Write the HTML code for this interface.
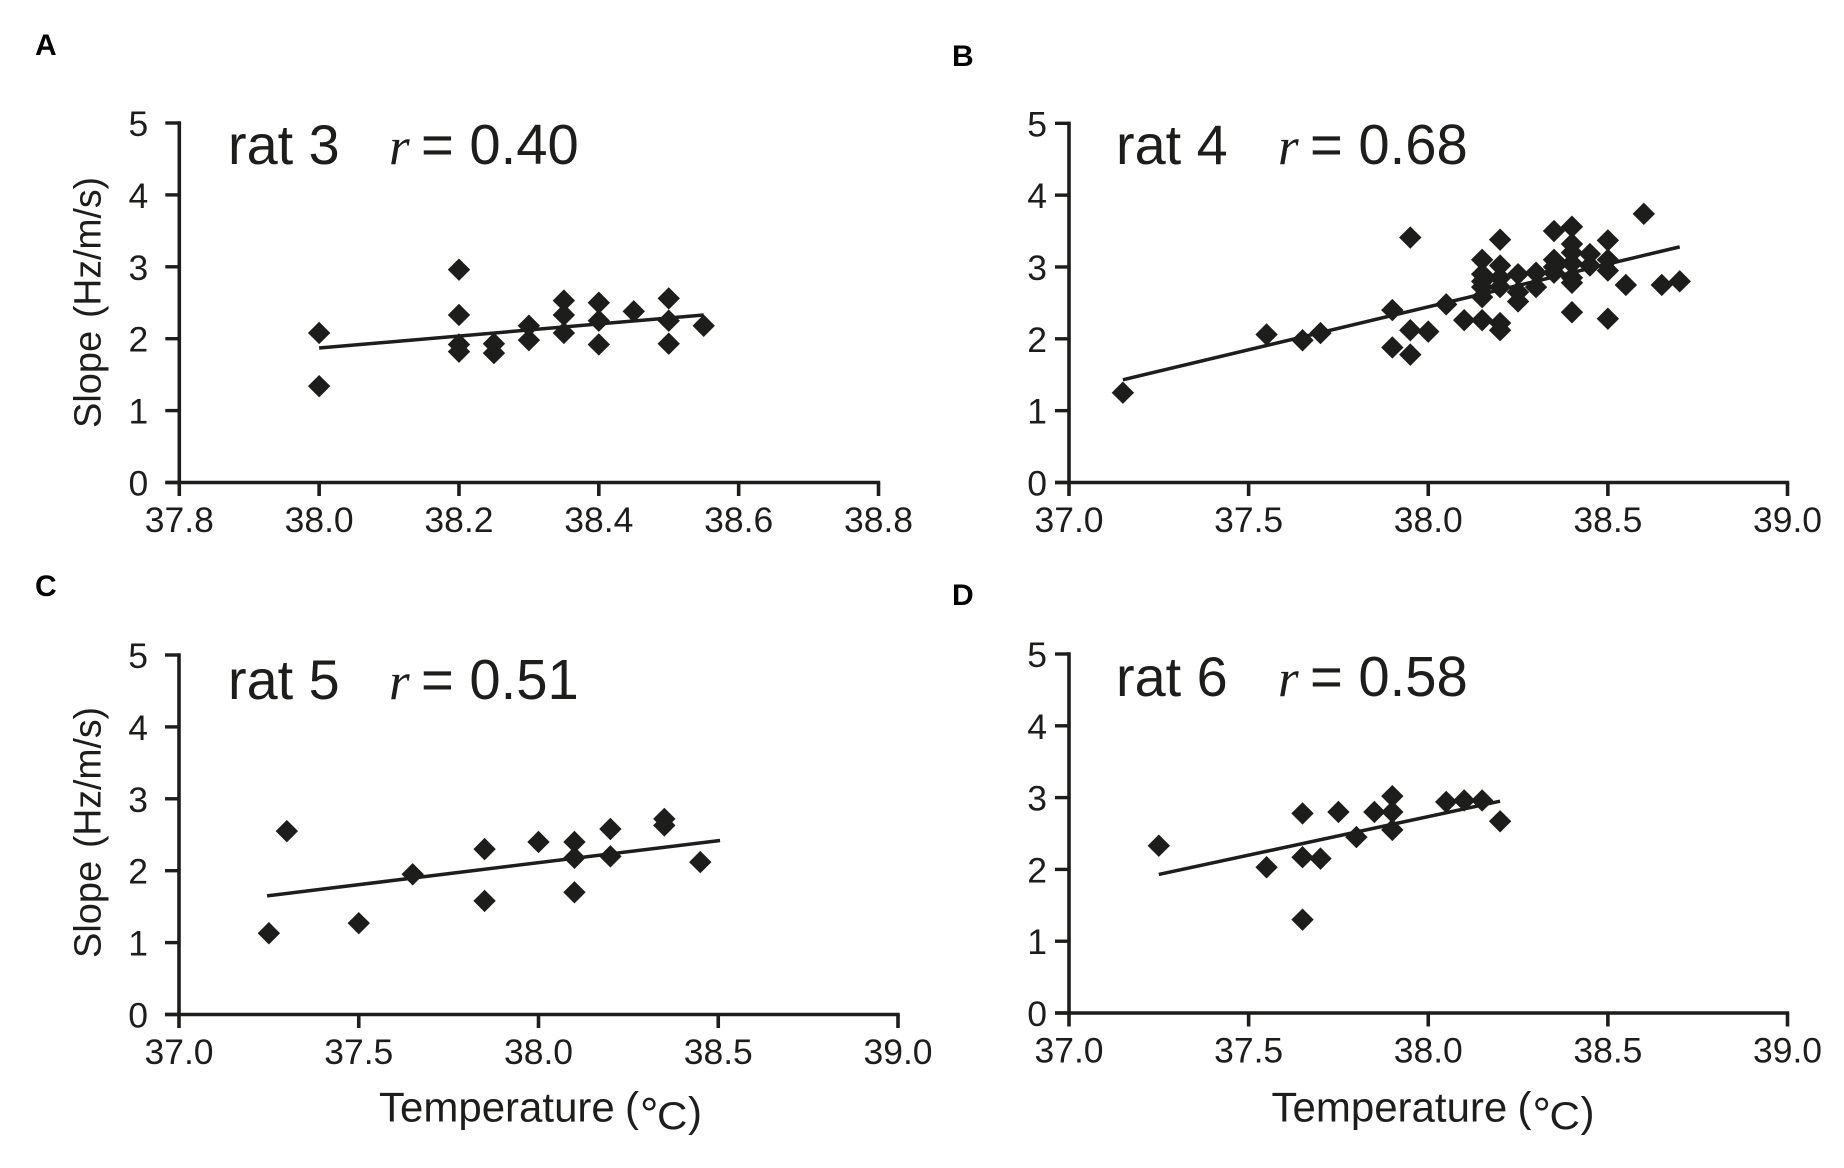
<!DOCTYPE html>
<html lang="en">
<head>
<meta charset="utf-8">
<title>Slope versus temperature, rats 3 to 6</title>
<style>
html,body{margin:0;padding:0;background:#fff}
svg{display:block}
text{font-family:"Liberation Sans",sans-serif;fill:#1d1d1b}
.panel-letter{font-size:30px;font-weight:700;fill:#000}
.tick{font-size:35.5px}
.note{font-size:55.8px}
.val{font-size:56.2px}
.r{font-family:"Liberation Serif",serif;font-style:italic;font-size:53px}
.ytitle{font-size:38px}
.xtitle{font-size:42px}
</style>
</head>
<body>
<svg id="figure" width="1844" height="1168" viewBox="0 0 1844 1168" xmlns="http://www.w3.org/2000/svg">
  <text class="panel-letter" x="35" y="55">A</text>
  <text class="panel-letter" x="952" y="66">B</text>
  <text class="panel-letter" x="35" y="596">C</text>
  <text class="panel-letter" x="952" y="605">D</text>

  <text class="note" x="228" y="164">rat 3</text>
  <text class="r" x="389" y="164">r</text>
  <text class="val" x="421" y="164">= 0.40</text>

  <text class="note" x="1116" y="164">rat 4</text>
  <text class="r" x="1278" y="164">r</text>
  <text class="val" x="1310" y="164">= 0.68</text>

  <text class="note" x="228" y="699">rat 5</text>
  <text class="r" x="389" y="699">r</text>
  <text class="val" x="421" y="699">= 0.51</text>

  <text class="note" x="1116" y="696">rat 6</text>
  <text class="r" x="1278" y="696">r</text>
  <text class="val" x="1310" y="696">= 0.58</text>

  <g transform="translate(100.7,428) rotate(-90)">
    <text class="ytitle" x="0" y="0">Slope</text>
    <text class="ytitle" x="110" y="0" textLength="141" lengthAdjust="spacingAndGlyphs">(Hz/m/s)</text>
  </g>
  <g transform="translate(100.7,958) rotate(-90)">
    <text class="ytitle" x="0" y="0">Slope</text>
    <text class="ytitle" x="110" y="0" textLength="141" lengthAdjust="spacingAndGlyphs">(Hz/m/s)</text>
  </g>

  <g transform="translate(379,0)">
    <text class="xtitle" x="0" y="1121.7">Temperature</text>
    <text class="xtitle" x="246" y="1121.7">(</text>
    <text x="261" y="1130" font-size="46">°</text>
    <text transform="translate(278,1129) scale(1.08,1)" font-size="39">C</text>
    <text class="xtitle" x="309" y="1126.4">)</text>
  </g>
  <g transform="translate(1271.5,0)">
    <text class="xtitle" x="0" y="1121.7">Temperature</text>
    <text class="xtitle" x="246" y="1121.7">(</text>
    <text x="261" y="1130" font-size="46">°</text>
    <text transform="translate(278,1129) scale(1.08,1)" font-size="39">C</text>
    <text class="xtitle" x="309" y="1126.4">)</text>
  </g>
</svg>

<script>
// Shared tick labels
const yTicks = [0, 1, 2, 3, 4, 5];
const xTicksA = ['37.8', '38.0', '38.2', '38.4', '38.6', '38.8'];
const xTicksOther = ['37.0', '37.5', '38.0', '38.5', '39.0'];

// Panel A: rat 3
const tempA = [38, 38, 38.2, 38.2, 38.2, 38.2, 38.25, 38.25, 38.3, 38.3, 38.35, 38.35, 38.35, 38.4, 38.4, 38.4, 38.45, 38.5, 38.5, 38.5, 38.55];
const slopeA = [2.08, 1.34, 2.96, 2.33, 1.92, 1.82, 1.93, 1.80, 2.18, 1.98, 2.53, 2.33, 2.08, 2.50, 2.25, 1.92, 2.38, 2.56, 2.25, 1.93, 2.18];
const fitTempA = [38, 38.55];
const fitSlopeA = [1.87, 2.33];

// Panel B: rat 4
const tempB = [37.15, 37.55, 37.65, 37.7, 37.9, 37.9, 37.95, 37.95, 37.95, 38, 38.05, 38.1,
  38.15, 38.15, 38.15, 38.15, 38.15, 38.15,
  38.2, 38.2, 38.2, 38.2, 38.2, 38.2,
  38.25, 38.25, 38.25, 38.3, 38.3,
  38.35, 38.35, 38.35, 38.35,
  38.4, 38.4, 38.4, 38.4, 38.4, 38.4, 38.4,
  38.45, 38.45, 38.5, 38.5, 38.5, 38.5, 38.55, 38.6, 38.65, 38.7];
const slopeB = [1.25, 2.06, 1.98, 2.08, 2.40, 1.88, 3.41, 2.12, 1.78, 2.10, 2.48, 2.26,
  3.10, 2.90, 2.80, 2.72, 2.58, 2.26,
  3.38, 3.02, 2.85, 2.72, 2.22, 2.12,
  2.90, 2.65, 2.52, 2.92, 2.72,
  3.50, 3.10, 3.00, 2.92,
  3.56, 3.32, 3.20, 3.05, 2.85, 2.78, 2.37,
  3.18, 3.02, 3.37, 3.10, 2.95, 2.28, 2.75, 3.74, 2.75, 2.80];
const fitTempB = [37.15, 38.7];
const fitSlopeB = [1.43, 3.28];

// Panel C: rat 5
const tempC = [37.25, 37.3, 37.5, 37.65, 37.85, 37.85, 38, 38.1, 38.1, 38.1, 38.2, 38.2, 38.35, 38.35, 38.45];
const slopeC = [1.13, 2.55, 1.27, 1.95, 2.30, 1.58, 2.40, 2.40, 2.18, 1.70, 2.58, 2.20, 2.72, 2.63, 2.12];
const fitTempC = [37.245, 38.505];
const fitSlopeC = [1.65, 2.42];

// Panel D: rat 6
const tempD = [37.25, 37.55, 37.65, 37.65, 37.65, 37.7, 37.75, 37.8, 37.85, 37.9, 37.9, 37.9, 38.05, 38.1, 38.15, 38.2];
const slopeD = [2.33, 2.03, 2.78, 2.17, 1.30, 2.15, 2.80, 2.45, 2.80, 3.02, 2.80, 2.55, 2.94, 2.96, 2.96, 2.67];
const fitTempD = [37.25, 38.2];
const fitSlopeD = [1.93, 2.95];

const INK = '#1d1d1b';
const NS = 'http://www.w3.org/2000/svg';
const figure = document.getElementById('figure');

function node(tag, parent) {
  const el = document.createElementNS(NS, tag);
  parent.appendChild(el);
  return el;
}

function drawPanel(id, frame, xLabels, temps, slopes, fitTemps, fitSlopes) {
  const xMin = parseFloat(xLabels[0]);
  const xMax = parseFloat(xLabels[xLabels.length - 1]);
  const xScale = v => frame.left + (v - xMin) / (xMax - xMin) * (frame.right - frame.left);
  const yScale = v => frame.bottom - v / 5 * (frame.bottom - frame.top);

  const g = node('g', figure);
  
  

  // axis lines
  const yAxis = node('line', g);
  
  
  yAxis.setAttribute('x1', frame.left);
  yAxis.setAttribute('x2', frame.left);
  yAxis.setAttribute('y1', frame.top - 1.7);
  yAxis.setAttribute('y2', frame.bottom);
  yAxis.setAttribute('stroke', INK);
  yAxis.setAttribute('stroke-width', 3.6);

  const xAxis = node('line', g);
  
  
  xAxis.setAttribute('x1', frame.left - 14);
  xAxis.setAttribute('x2', frame.right + 1.7);
  xAxis.setAttribute('y1', frame.bottom);
  xAxis.setAttribute('y2', frame.bottom);
  xAxis.setAttribute('stroke', INK);
  xAxis.setAttribute('stroke-width', 3.6);

  // y ticks and labels
  yTicks.forEach(t => {
    const tick = node('line', g);
    
    
    tick.setAttribute('x1', frame.left - 14);
    tick.setAttribute('x2', frame.left);
    tick.setAttribute('y1', yScale(t));
    tick.setAttribute('y2', yScale(t));
    tick.setAttribute('stroke', INK);
    tick.setAttribute('stroke-width', 3.4);

    const label = node('text', g);
    
    
    label.setAttribute('class', 'tick');
    label.setAttribute('text-anchor', 'end');
    label.setAttribute('x', frame.left - frame.labelGap);
    label.setAttribute('y', yScale(t) + 13);
    label.textContent = t;
  });

  // x ticks and labels
  xLabels.forEach(t => {
    const v = parseFloat(t);
    const tick = node('line', g);
    
    
    tick.setAttribute('x1', xScale(v));
    tick.setAttribute('x2', xScale(v));
    tick.setAttribute('y1', frame.bottom);
    tick.setAttribute('y2', frame.bottom + 13.5);
    tick.setAttribute('stroke', INK);
    tick.setAttribute('stroke-width', 3.6);

    const label = node('text', g);
    
    
    label.setAttribute('class', 'tick');
    label.setAttribute('text-anchor', 'middle');
    label.setAttribute('x', xScale(v));
    label.setAttribute('y', frame.bottom + 49.5);
    label.textContent = t;
  });

  // regression line
  const fit = node('line', g);
  
  
  fit.setAttribute('x1', xScale(fitTemps[0]));
  fit.setAttribute('x2', xScale(fitTemps[1]));
  fit.setAttribute('y1', yScale(fitSlopes[0]));
  fit.setAttribute('y2', yScale(fitSlopes[1]));
  fit.setAttribute('stroke', INK);
  fit.setAttribute('stroke-width', 3.5);

  // diamond points
  temps.forEach((t, i) => {
    const cx = xScale(t);
    const cy = yScale(slopes[i]);
    const r = 11.2;
    const p = node('polygon', g);
    
    
    p.setAttribute('points', [cx, cy - r, cx + r, cy, cx, cy + r, cx - r, cy].join(' '));
    p.setAttribute('fill', INK);
  });
}

drawPanel('a', {left: 179.3, right: 878.5, top: 123, bottom: 482.5, labelGap: 31}, xTicksA, tempA, slopeA, fitTempA, fitSlopeA);
drawPanel('b', {left: 1069, right: 1787.5, top: 123.3, bottom: 482.5, labelGap: 22}, xTicksOther, tempB, slopeB, fitTempB, fitSlopeB);
drawPanel('c', {left: 179, right: 898, top: 655, bottom: 1014.5, labelGap: 31}, xTicksOther, tempC, slopeC, fitTempC, fitSlopeC);
drawPanel('d', {left: 1069, right: 1787.5, top: 654, bottom: 1013, labelGap: 22}, xTicksOther, tempD, slopeD, fitTempD, fitSlopeD);
</script>
</body>
</html>
